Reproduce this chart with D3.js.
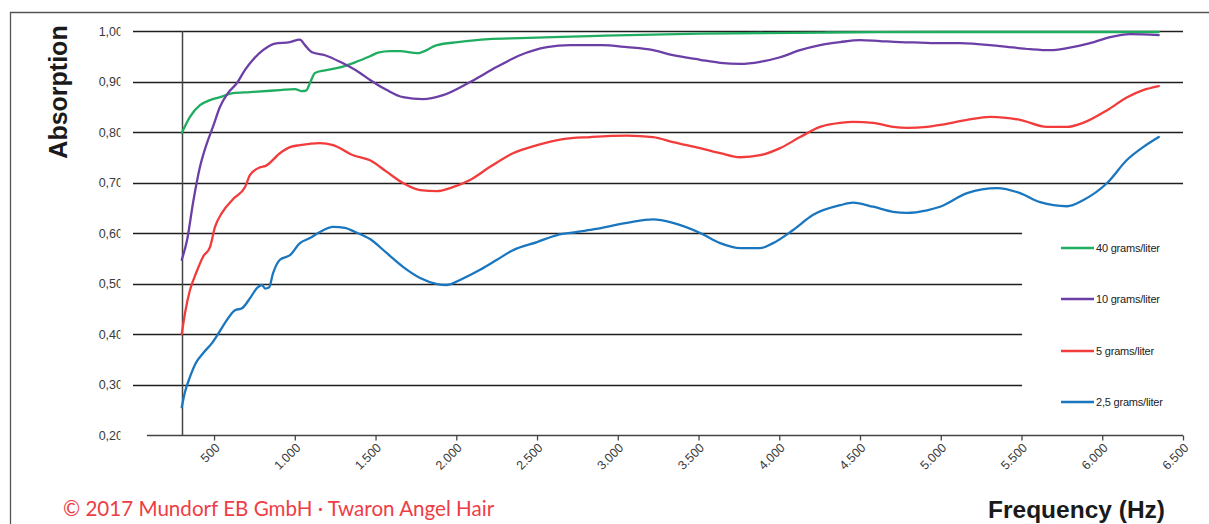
<!DOCTYPE html>
<html>
<head>
<meta charset="utf-8">
<script src="https://cdn.jsdelivr.net/npm/d3@7"></script>
<style>
  html, body { margin: 0; padding: 0; background: #fff; }
  svg { display: block; }
</style>
</head>
<body>
<svg id="chart" width="1209" height="524"></svg>
<script>
// Absorption vs. frequency for Twaron Angel Hair at four densities
const seriesNames = ["40 grams/liter", "10 grams/liter", "5 grams/liter", "2,5 grams/liter"];
const seriesColors = ["#1fad60", "#6b3fa6", "#f23b3b", "#1976bf"];

const xTicks = [500, 1000, 1500, 2000, 2500, 3000, 3500, 4000, 4500, 5000, 5500, 6000, 6500];
const yTicks = [0.2, 0.3, 0.4, 0.5, 0.6, 0.7, 0.8, 0.9, 1.0];

// [frequency (Hz), absorption]
const green40 = [
  [300, 0.798], [351, 0.83], [413, 0.853], [475, 0.863], [537, 0.869], [617, 0.877],
  [723, 0.879], [908, 0.883], [1001, 0.885], [1040, 0.881], [1070, 0.882], [1094, 0.897],
  [1125, 0.917], [1187, 0.922], [1280, 0.928], [1373, 0.938], [1466, 0.95], [1516, 0.957],
  [1590, 0.96], [1652, 0.96], [1757, 0.956], [1881, 0.972], [2010, 0.978], [2200, 0.984],
  [2394, 0.986], [2600, 0.988], [2829, 0.990], [3510, 0.995], [4300, 0.997], [5000, 0.998],
  [6350, 0.998]
];
const purple10 = [
  [300, 0.547], [333, 0.586], [370, 0.66], [413, 0.731], [456, 0.778], [493, 0.81],
  [537, 0.85], [586, 0.877], [642, 0.897], [692, 0.923], [741, 0.943], [803, 0.962],
  [877, 0.975], [970, 0.978], [1032, 0.983], [1063, 0.972], [1107, 0.958], [1187, 0.952],
  [1280, 0.939], [1404, 0.917], [1466, 0.903], [1570, 0.883], [1670, 0.869], [1794, 0.865],
  [1918, 0.873], [2085, 0.899], [2252, 0.929], [2394, 0.952], [2562, 0.968], [2705, 0.972],
  [2900, 0.972], [3057, 0.968], [3219, 0.962], [3342, 0.952], [3510, 0.943], [3634, 0.937],
  [3758, 0.935], [3882, 0.939], [4005, 0.948], [4129, 0.962], [4253, 0.972], [4377, 0.978],
  [4500, 0.982], [4624, 0.98], [4748, 0.978], [4872, 0.977], [4996, 0.976], [5120, 0.976],
  [5367, 0.970], [5553, 0.964], [5677, 0.962], [5782, 0.966], [5925, 0.976], [6049, 0.988],
  [6173, 0.994], [6350, 0.992]
];
const red5 = [
  [300, 0.40], [320, 0.441], [351, 0.487], [388, 0.52], [432, 0.553], [475, 0.572],
  [506, 0.612], [549, 0.64], [617, 0.667], [692, 0.691], [723, 0.715], [784, 0.73],
  [820, 0.733], [908, 0.758], [970, 0.77], [1032, 0.774], [1156, 0.778], [1237, 0.774],
  [1361, 0.754], [1466, 0.744], [1570, 0.721], [1670, 0.699], [1776, 0.685], [1881, 0.683],
  [1962, 0.689], [2085, 0.705], [2209, 0.731], [2351, 0.758], [2500, 0.774], [2660, 0.786],
  [2829, 0.79], [3057, 0.793], [3219, 0.79], [3342, 0.78], [3510, 0.768], [3634, 0.758],
  [3758, 0.75], [3882, 0.754], [4005, 0.768], [4129, 0.79], [4253, 0.81], [4377, 0.818],
  [4457, 0.82], [4581, 0.818], [4705, 0.81], [4791, 0.808], [4915, 0.81], [4996, 0.814],
  [5163, 0.824], [5305, 0.83], [5491, 0.824], [5658, 0.81], [5782, 0.81], [5881, 0.818],
  [6030, 0.843], [6154, 0.869], [6253, 0.883], [6350, 0.891]
];
const blue25 = [
  [300, 0.255], [320, 0.285], [351, 0.315], [388, 0.343], [432, 0.362], [487, 0.382],
  [525, 0.40], [568, 0.422], [630, 0.447], [673, 0.451], [723, 0.471], [766, 0.491],
  [797, 0.497], [816, 0.490], [840, 0.492], [865, 0.520], [908, 0.547], [970, 0.556],
  [1032, 0.58], [1094, 0.59], [1156, 0.602], [1237, 0.612], [1311, 0.61], [1373, 0.602],
  [1466, 0.588], [1570, 0.56], [1670, 0.533], [1776, 0.511], [1881, 0.499], [1943, 0.497],
  [2023, 0.507], [2147, 0.527], [2252, 0.547], [2351, 0.566], [2500, 0.582], [2624, 0.596],
  [2748, 0.602], [2847, 0.607], [3057, 0.62], [3219, 0.627], [3342, 0.62], [3510, 0.60],
  [3634, 0.58], [3758, 0.57], [3882, 0.57], [3962, 0.58], [4086, 0.606], [4210, 0.636],
  [4377, 0.655], [4457, 0.66], [4581, 0.652], [4705, 0.642], [4791, 0.64], [4915, 0.645],
  [4996, 0.652], [5163, 0.679], [5349, 0.689], [5491, 0.679], [5615, 0.661], [5782, 0.653],
  [5881, 0.665], [6030, 0.699], [6154, 0.745], [6253, 0.77], [6350, 0.79]
];
const seriesData = [green40, purple10, red5, blue25];

const svg = d3.select("#chart");
const de = d3.formatLocale({ decimal: ",", thousands: ".", grouping: [3], currency: ["", " €"] });
const fmtX = de.format(",");
const fmtY = de.format(",.2f");

const x = d3.scaleLinear().domain([0, 6500]).range([133.3, 1183]);
const y = d3.scaleLinear().domain([0.2, 1.0]).range([435, 31]);

// outer frame (top and left edges)
svg.append("path")
  .attr("d", "M10.5,524 V12.5 H1209")
  .attr("fill", "none").attr("stroke", "#555").attr("stroke-width", 1.3);

// horizontal gridlines; the lower ones stop short of the legend
const grid = svg.append("g");
yTicks.filter(v => v > 0.25).forEach(v => {
  grid.append("line")
    .attr("x1", 133).attr("x2", v >= 0.65 ? 1183 : 1022)
    .attr("y1", Math.round(y(v)) + 0.5).attr("y2", Math.round(y(v)) + 0.5)
    .attr("stroke", "#1e1e1e").attr("stroke-width", 1.3);
});

// y tick labels (the bottom one is cut by the plot edge)
svg.append("defs").append("clipPath").attr("id", "ylab")
  .append("rect").attr("x", 0).attr("y", 0).attr("width", 120.5).attr("height", 524);
svg.append("g")
  .attr("clip-path", "url(#ylab)")
  .append("g")
  .attr("transform", "translate(123,0)")
  .call(d3.axisLeft(y).tickValues(yTicks).tickFormat(fmtY).tickSize(0).tickPadding(0))
  .call(g => g.select(".domain").remove())
  .call(g => g.selectAll("text")
    .attr("font-family", "Liberation Sans, Arial, sans-serif")
    .attr("font-size", 12.5).attr("fill", "#3a3a3a"));

// x axis with rotated labels
const xAxis = svg.append("g")
  .attr("transform", `translate(0,${Math.round(y(0.2)) + 0.5})`)
  .call(d3.axisBottom(x).tickValues(xTicks).tickFormat(fmtX).tickSize(5).tickSizeOuter(0));
xAxis.select(".domain").remove();
xAxis.insert("line", ":first-child")
  .attr("x1", 147).attr("x2", 1183).attr("y1", 0).attr("y2", 0)
  .attr("stroke", "#444").attr("stroke-width", 1.5);
xAxis.selectAll(".tick line").attr("stroke", "#444").attr("stroke-width", 1.3);
xAxis.selectAll(".tick text")
  .attr("font-family", "Liberation Sans, Arial, sans-serif")
  .attr("font-size", 12.5).attr("fill", "#3a3a3a")
  .attr("text-anchor", "end")
  .attr("dy", null).attr("y", 0)
  .attr("transform", "translate(6,13) rotate(-45)");

// vertical axis line at the first measured frequency
svg.append("line")
  .attr("x1", Math.round(x(300)) + 0.5).attr("x2", Math.round(x(300)) + 0.5)
  .attr("y1", y(1.0)).attr("y2", y(0.2))
  .attr("stroke", "#444").attr("stroke-width", 1.5);

// measured curves
const line = d3.line().x(d => x(d[0])).y(d => y(d[1])).curve(d3.curveMonotoneX);
svg.append("g").selectAll("path").data(seriesData).join("path")
  .attr("d", line)
  .attr("fill", "none")
  .attr("stroke", (d, i) => seriesColors[i])
  .attr("stroke-width", 2.3)
  .attr("stroke-linejoin", "round").attr("stroke-linecap", "round");

// legend
const legendY = [248, 299, 351, 402];
const legend = svg.append("g").selectAll("g").data(seriesNames).join("g")
  .attr("transform", (d, i) => `translate(1061,${legendY[i]})`);
legend.append("line").attr("x1", 0).attr("x2", 33).attr("y1", 0).attr("y2", 0)
  .attr("stroke", (d, i) => seriesColors[i]).attr("stroke-width", 2.3);
legend.append("text").attr("x", 35).attr("y", 0).attr("dy", "0.35em")
  .attr("font-family", "Liberation Sans, Arial, sans-serif")
  .attr("font-size", 11).attr("letter-spacing", -0.2).attr("fill", "#222")
  .text(d => d);

// axis titles
svg.append("text")
  .attr("transform", "translate(67,92) rotate(-90)")
  .attr("text-anchor", "middle")
  .attr("font-family", "Liberation Sans, Arial, sans-serif")
  .attr("font-weight", "bold").attr("font-size", 25).attr("fill", "#1a1a1a")
  .text("Absorption");
svg.append("text")
  .attr("x", 1165).attr("y", 518)
  .attr("text-anchor", "end")
  .attr("font-family", "Liberation Sans, Arial, sans-serif")
  .attr("font-weight", "bold").attr("font-size", 24.5).attr("fill", "#1a1a1a")
  .text("Frequency (Hz)");

// copyright note
svg.append("text")
  .attr("x", 63).attr("y", 516)
  .attr("font-family", "Lato, Open Sans, sans-serif")
  .attr("font-size", 20.6).attr("fill", "#ee3d45")
  .text("© 2017 Mundorf EB GmbH · Twaron Angel Hair");
</script>
</body>
</html>
